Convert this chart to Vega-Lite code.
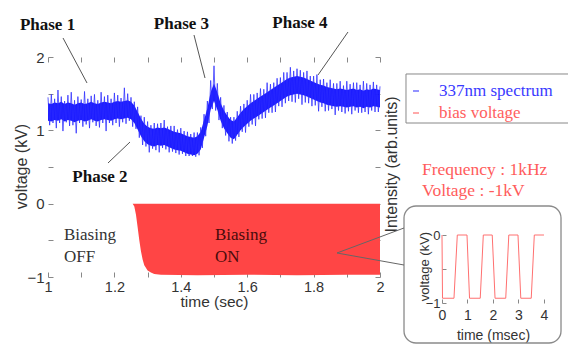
{
  "$schema": "https://vega.github.io/schema/vega-lite/v6.json",
  "width": 568,
  "height": 345,
  "autosize": {"type": "none"},
  "padding": 0,
  "background": "white",
  "config": {
    "view": {"stroke": null},
    "axis": {"grid": false, "labelFont": "Liberation Sans", "titleFont": "Liberation Sans"}
  },
  "datasets": {
    "blueBand": [
      {"t":1.00,"lo":1.13,"hi":1.37},{"t":1.01,"lo":1.12,"hi":1.36},{"t":1.02,"lo":1.14,"hi":1.38},{"t":1.03,"lo":1.13,"hi":1.37},{"t":1.04,"lo":1.15,"hi":1.39},
      {"t":1.05,"lo":1.12,"hi":1.36},{"t":1.06,"lo":1.14,"hi":1.38},{"t":1.07,"lo":1.13,"hi":1.37},{"t":1.08,"lo":1.11,"hi":1.35},{"t":1.09,"lo":1.13,"hi":1.37},
      {"t":1.10,"lo":1.14,"hi":1.38},{"t":1.11,"lo":1.12,"hi":1.36},{"t":1.12,"lo":1.13,"hi":1.37},{"t":1.13,"lo":1.15,"hi":1.39},{"t":1.14,"lo":1.13,"hi":1.37},
      {"t":1.15,"lo":1.12,"hi":1.36},{"t":1.16,"lo":1.14,"hi":1.38},{"t":1.17,"lo":1.15,"hi":1.39},{"t":1.18,"lo":1.14,"hi":1.38},{"t":1.19,"lo":1.13,"hi":1.37},
      {"t":1.20,"lo":1.15,"hi":1.39},{"t":1.21,"lo":1.16,"hi":1.40},{"t":1.22,"lo":1.15,"hi":1.39},{"t":1.23,"lo":1.16,"hi":1.40},{"t":1.24,"lo":1.17,"hi":1.41},
      {"t":1.25,"lo":1.15,"hi":1.39},{"t":1.26,"lo":1.10,"hi":1.34},{"t":1.27,"lo":1.01,"hi":1.25},{"t":1.28,"lo":0.92,"hi":1.16},{"t":1.29,"lo":0.85,"hi":1.09},
      {"t":1.30,"lo":0.81,"hi":1.05},{"t":1.31,"lo":0.79,"hi":1.03},{"t":1.32,"lo":0.78,"hi":1.02},{"t":1.33,"lo":0.80,"hi":1.04},{"t":1.34,"lo":0.79,"hi":1.03},
      {"t":1.35,"lo":0.80,"hi":1.04},{"t":1.36,"lo":0.78,"hi":1.02},{"t":1.37,"lo":0.76,"hi":1.00},{"t":1.38,"lo":0.74,"hi":0.98},{"t":1.39,"lo":0.73,"hi":0.97},
      {"t":1.40,"lo":0.72,"hi":0.96},{"t":1.41,"lo":0.70,"hi":0.94},{"t":1.42,"lo":0.68,"hi":0.92},{"t":1.43,"lo":0.67,"hi":0.91},{"t":1.44,"lo":0.66,"hi":0.90},
      {"t":1.45,"lo":0.68,"hi":0.92},{"t":1.46,"lo":0.74,"hi":0.98},{"t":1.47,"lo":0.90,"hi":1.14},{"t":1.48,"lo":1.06,"hi":1.30},{"t":1.49,"lo":1.28,"hi":1.52},
      {"t":1.50,"lo":1.40,"hi":1.64},{"t":1.51,"lo":1.28,"hi":1.52},{"t":1.52,"lo":1.13,"hi":1.37},{"t":1.53,"lo":1.03,"hi":1.27},{"t":1.54,"lo":0.96,"hi":1.20},
      {"t":1.55,"lo":0.90,"hi":1.14},{"t":1.56,"lo":0.88,"hi":1.12},{"t":1.57,"lo":0.94,"hi":1.18},{"t":1.58,"lo":1.00,"hi":1.24},{"t":1.59,"lo":1.05,"hi":1.29},
      {"t":1.60,"lo":1.09,"hi":1.33},{"t":1.61,"lo":1.13,"hi":1.37},{"t":1.62,"lo":1.16,"hi":1.40},{"t":1.63,"lo":1.19,"hi":1.43},{"t":1.64,"lo":1.22,"hi":1.46},
      {"t":1.65,"lo":1.25,"hi":1.49},{"t":1.66,"lo":1.28,"hi":1.52},{"t":1.67,"lo":1.31,"hi":1.55},{"t":1.68,"lo":1.34,"hi":1.58},{"t":1.69,"lo":1.37,"hi":1.61},
      {"t":1.70,"lo":1.40,"hi":1.64},{"t":1.71,"lo":1.43,"hi":1.67},{"t":1.72,"lo":1.46,"hi":1.70},{"t":1.73,"lo":1.48,"hi":1.72},{"t":1.74,"lo":1.49,"hi":1.73},
      {"t":1.75,"lo":1.50,"hi":1.74},{"t":1.76,"lo":1.49,"hi":1.73},{"t":1.77,"lo":1.48,"hi":1.72},{"t":1.78,"lo":1.46,"hi":1.70},{"t":1.79,"lo":1.44,"hi":1.68},
      {"t":1.80,"lo":1.42,"hi":1.66},{"t":1.81,"lo":1.40,"hi":1.64},{"t":1.82,"lo":1.38,"hi":1.62},{"t":1.83,"lo":1.37,"hi":1.61},{"t":1.84,"lo":1.35,"hi":1.59},
      {"t":1.85,"lo":1.34,"hi":1.58},{"t":1.86,"lo":1.33,"hi":1.57},{"t":1.87,"lo":1.32,"hi":1.56},{"t":1.88,"lo":1.33,"hi":1.57},{"t":1.89,"lo":1.32,"hi":1.56},
      {"t":1.90,"lo":1.31,"hi":1.55},{"t":1.91,"lo":1.32,"hi":1.56},{"t":1.92,"lo":1.33,"hi":1.57},{"t":1.93,"lo":1.31,"hi":1.55},{"t":1.94,"lo":1.32,"hi":1.56},
      {"t":1.95,"lo":1.30,"hi":1.54},{"t":1.96,"lo":1.32,"hi":1.56},{"t":1.97,"lo":1.31,"hi":1.55},{"t":1.98,"lo":1.33,"hi":1.57},{"t":1.99,"lo":1.32,"hi":1.56},
      {"t":2.00,"lo":1.31,"hi":1.55}
    ],
    "blueNoise": [
      {"t":1.000,"v":1.45},{"t":1.005,"v":1.07},{"t":1.010,"v":1.49},{"t":1.015,"v":1.10},{"t":1.020,"v":1.43},{"t":1.025,"v":1.03},{"t":1.030,"v":1.55},{"t":1.035,"v":1.10},{"t":1.040,"v":1.46},{"t":1.045,"v":0.99},
      {"t":1.050,"v":1.40},{"t":1.055,"v":1.11},{"t":1.060,"v":1.48},{"t":1.065,"v":1.06},{"t":1.070,"v":1.52},{"t":1.075,"v":1.07},{"t":1.080,"v":1.41},{"t":1.085,"v":0.96},{"t":1.090,"v":1.46},{"t":1.095,"v":1.10},
      {"t":1.100,"v":1.42},{"t":1.105,"v":1.05},{"t":1.110,"v":1.53},{"t":1.115,"v":1.08},{"t":1.120,"v":1.43},{"t":1.125,"v":1.03},{"t":1.130,"v":1.47},{"t":1.135,"v":1.11},{"t":1.140,"v":1.49},{"t":1.145,"v":1.06},
      {"t":1.150,"v":1.41},{"t":1.155,"v":1.04},{"t":1.160,"v":1.52},{"t":1.165,"v":1.10},{"t":1.170,"v":1.46},{"t":1.175,"v":0.99},{"t":1.180,"v":1.48},{"t":1.185,"v":1.10},{"t":1.190,"v":1.43},{"t":1.195,"v":1.07},
      {"t":1.200,"v":1.51},{"t":1.205,"v":1.10},{"t":1.210,"v":1.48},{"t":1.215,"v":1.05},{"t":1.220,"v":1.44},{"t":1.225,"v":1.11},{"t":1.230,"v":1.58},{"t":1.235,"v":1.09},{"t":1.240,"v":1.50},{"t":1.245,"v":1.13},
      {"t":1.250,"v":1.45},{"t":1.255,"v":1.05},{"t":1.260,"v":1.39},{"t":1.265,"v":1.02},{"t":1.270,"v":1.32},{"t":1.275,"v":0.90},{"t":1.280,"v":1.20},{"t":1.285,"v":0.80},{"t":1.290,"v":1.18},{"t":1.295,"v":0.78},
      {"t":1.300,"v":1.12},{"t":1.305,"v":0.70},{"t":1.310,"v":1.07},{"t":1.315,"v":0.75},{"t":1.320,"v":1.10},{"t":1.325,"v":0.73},{"t":1.330,"v":1.09},{"t":1.335,"v":0.70},{"t":1.340,"v":1.10},{"t":1.345,"v":0.76},
      {"t":1.350,"v":1.14},{"t":1.355,"v":0.74},{"t":1.360,"v":1.05},{"t":1.365,"v":0.70},{"t":1.370,"v":1.06},{"t":1.375,"v":0.71},{"t":1.380,"v":1.06},{"t":1.385,"v":0.69},{"t":1.390,"v":1.01},{"t":1.395,"v":0.67},
      {"t":1.400,"v":1.03},{"t":1.405,"v":0.68},{"t":1.410,"v":0.99},{"t":1.415,"v":0.65},{"t":1.420,"v":0.98},{"t":1.425,"v":0.65},{"t":1.430,"v":0.95},{"t":1.435,"v":0.65},{"t":1.440,"v":0.97},{"t":1.445,"v":0.64},
      {"t":1.450,"v":0.97},{"t":1.455,"v":0.66},{"t":1.460,"v":1.04},{"t":1.465,"v":0.76},{"t":1.470,"v":1.22},{"t":1.475,"v":0.92},{"t":1.480,"v":1.40},{"t":1.485,"v":1.10},{"t":1.490,"v":1.68},{"t":1.495,"v":1.29},
      {"t":1.500,"v":1.88},{"t":1.505,"v":1.27},{"t":1.510,"v":1.64},{"t":1.515,"v":1.14},{"t":1.520,"v":1.45},{"t":1.525,"v":1.03},{"t":1.530,"v":1.34},{"t":1.535,"v":0.93},{"t":1.540,"v":1.25},{"t":1.545,"v":0.85},
      {"t":1.550,"v":1.18},{"t":1.555,"v":0.82},{"t":1.560,"v":1.18},{"t":1.565,"v":0.86},{"t":1.570,"v":1.26},{"t":1.575,"v":0.91},{"t":1.580,"v":1.33},{"t":1.585,"v":0.98},{"t":1.590,"v":1.36},{"t":1.595,"v":0.97},
      {"t":1.600,"v":1.41},{"t":1.605,"v":1.05},{"t":1.610,"v":1.49},{"t":1.615,"v":1.08},{"t":1.620,"v":1.49},{"t":1.625,"v":1.06},{"t":1.630,"v":1.51},{"t":1.635,"v":1.15},{"t":1.640,"v":1.57},{"t":1.645,"v":1.16},
      {"t":1.650,"v":1.56},{"t":1.655,"v":1.17},{"t":1.660,"v":1.65},{"t":1.665,"v":1.24},{"t":1.670,"v":1.63},{"t":1.675,"v":1.24},{"t":1.680,"v":1.65},{"t":1.685,"v":1.25},{"t":1.690,"v":1.71},{"t":1.695,"v":1.33},
      {"t":1.700,"v":1.72},{"t":1.705,"v":1.32},{"t":1.710,"v":1.79},{"t":1.715,"v":1.37},{"t":1.720,"v":1.79},{"t":1.725,"v":1.40},{"t":1.730,"v":1.86},{"t":1.735,"v":1.39},{"t":1.740,"v":1.81},{"t":1.745,"v":1.38},
      {"t":1.750,"v":1.84},{"t":1.755,"v":1.43},{"t":1.760,"v":1.82},{"t":1.765,"v":1.35},{"t":1.770,"v":1.79},{"t":1.775,"v":1.38},{"t":1.780,"v":1.81},{"t":1.785,"v":1.37},{"t":1.790,"v":1.74},{"t":1.795,"v":1.33},
      {"t":1.800,"v":1.74},{"t":1.805,"v":1.34},{"t":1.810,"v":1.76},{"t":1.815,"v":1.26},{"t":1.820,"v":1.69},{"t":1.825,"v":1.32},{"t":1.830,"v":1.70},{"t":1.835,"v":1.26},{"t":1.840,"v":1.65},{"t":1.845,"v":1.27},
      {"t":1.850,"v":1.69},{"t":1.855,"v":1.29},{"t":1.860,"v":1.64},{"t":1.865,"v":1.21},{"t":1.870,"v":1.64},{"t":1.875,"v":1.27},{"t":1.880,"v":1.67},{"t":1.885,"v":1.25},{"t":1.890,"v":1.61},{"t":1.895,"v":1.23},
      {"t":1.900,"v":1.67},{"t":1.905,"v":1.26},{"t":1.910,"v":1.63},{"t":1.915,"v":1.22},{"t":1.920,"v":1.65},{"t":1.925,"v":1.27},{"t":1.930,"v":1.65},{"t":1.935,"v":1.24},{"t":1.940,"v":1.62},{"t":1.945,"v":1.24},
      {"t":1.950,"v":1.67},{"t":1.955,"v":1.25},{"t":1.960,"v":1.64},{"t":1.965,"v":1.22},{"t":1.970,"v":1.62},{"t":1.975,"v":1.27},{"t":1.980,"v":1.66},{"t":1.985,"v":1.25},{"t":1.990,"v":1.62},{"t":1.995,"v":1.25},
      {"t":2.000,"v":1.60}
    ],
    "redArea": [
      {"t":1.255,"lo":0},{"t":1.26,"lo":-0.04},{"t":1.265,"lo":-0.15},{"t":1.27,"lo":-0.32},{"t":1.275,"lo":-0.5},{"t":1.28,"lo":-0.65},
      {"t":1.285,"lo":-0.76},{"t":1.29,"lo":-0.84},{"t":1.30,"lo":-0.91},{"t":1.31,"lo":-0.94},{"t":1.32,"lo":-0.96},{"t":1.34,"lo":-0.97},
      {"t":1.45,"lo":-0.975},{"t":1.6,"lo":-0.97},{"t":1.75,"lo":-0.975},{"t":1.9,"lo":-0.97},{"t":2.0,"lo":-0.97}
    ],
    "wave": [
      {"m":0,"v":0},{"m":0.02,"v":-0.93},{"m":0.47,"v":-0.93},{"m":0.6,"v":0},{"m":0.98,"v":0},{"m":1.08,"v":-0.93},
      {"m":1.5,"v":-0.93},{"m":1.62,"v":0},{"m":1.97,"v":0},{"m":2.08,"v":-0.93},{"m":2.5,"v":-0.93},{"m":2.62,"v":0},
      {"m":2.98,"v":0},{"m":3.09,"v":-0.93},{"m":3.5,"v":-0.93},{"m":3.62,"v":0},{"m":4,"v":0}
    ],
    "phases": [
      {"label":"Phase 1","t":0.9985,"v":2.4364},{"label":"Phase 3","t":1.4021,"v":2.45},
      {"label":"Phase 4","t":1.759,"v":2.4636},{"label":"Phase 2","t":1.1566,"v":0.3636}
    ],
    "biasOff": [{"label":"Biasing","t":1.0482,"v":-0.4273},{"label":"OFF","t":1.0482,"v":-0.7273}],
    "biasOn": [{"label":"Biasing","t":1.503,"v":-0.4273},{"label":"ON","t":1.503,"v":-0.7273}],
    "freq": [{"label":"Frequency : 1kHz","t":2.1265,"v":0.4591},{"label":"Voltage : -1kV","t":2.1265,"v":0.1727}],
    "arrows": [
      {"t":1.0452,"v":2.2591,"t2":1.1175,"v2":1.6455},{"t":1.4398,"v":2.3,"t2":1.4729,"v2":1.7136},
      {"t":1.9036,"v":2.3409,"t2":1.8133,"v2":1.7545},{"t":1.1807,"v":0.5545,"t2":1.247,"v2":0.8409}
    ],
    "callout": [
      {"t":1.8705,"v":-0.6727,"t2":2.0723,"v2":-0.3318},{"t":1.8705,"v":-0.6727,"t2":2.0723,"v2":-0.8364}
    ],
    "bubble": [{"t":2.0723,"t2":2.5452,"v":-0.0318,"v2":-1.9}],
    "legendBox": [{"t":2.0783,"t2":2.58,"v":1.7682,"v2":1.1}],
    "legendBlue": [{"label":"337nm spectrum","t":2.0994,"t2":2.1175,"tl":2.1777,"v":1.5364}],
    "legendRed": [{"label":"bias voltage","t":2.0994,"t2":2.1175,"tl":2.1777,"v":1.2364}]
  },
  "layer": [
    {
      "layer": [
        {
          "layer": [
            {
              "mark": {"type": "rect", "filled": false, "color": "#8c8c8c", "strokeWidth": 1},
              "encoding": {
                "x": {"datum": 1, "type": "quantitative",
                  "scale": {"domain": [0.855422, 2.566265], "nice": false, "zero": false},
                  "axis": {"orient": "bottom", "offset": -68, "values": [1,1.1,1.2,1.3,1.4,1.5,1.6,1.7,1.8,1.9,2], "format": ".1~f",
                    "labelExpr": "(round(datum.value*10) % 2 == 0) ? datum.label : ''",
                    "domain": false, "tickSize": -5, "tickColor": "#888", "labelPadding": 19, "labelBaseline": "alphabetic",
                    "labelFontSize": 14.5, "labelColor": "#333", "labelFlush": false, "labelOverlap": false,
                    "title": "time (sec)", "titleX": 214, "titleY": 29, "titleBaseline": "alphabetic", "titleAlign": "center",
                    "titleFontSize": 15.5, "titleFontWeight": "normal", "titleColor": "#333", "grid": false}},
                "x2": {"datum": 2},
                "y": {"datum": -1, "type": "quantitative",
                  "scale": {"domain": [-1.927273, 2.777273], "nice": false, "zero": false},
                  "axis": {"orient": "left", "offset": -48, "values": [-1,-0.5,0,0.5,1,1.5,2], "format": "~g",
                    "labelExpr": "datum.value % 1 == 0 ? datum.label : ''",
                    "domain": false, "tickSize": -5, "tickColor": "#888", "labelPadding": 9, "labelFontSize": 15, "labelColor": "#333",
                    "labelFlush": false, "labelOverlap": false,
                    "title": "voltage (kV)", "titleX": -27, "titleY": 166, "titleAngle": 270, "titleBaseline": "middle", "titleAlign": "center",
                    "titleFontSize": 16, "titleFontWeight": "normal", "titleColor": "#333", "grid": false}},
                "y2": {"datum": 2}
              }
            },
            {
              "data": {"name": "redArea"},
              "mark": {"type": "area", "interpolate": "linear", "color": "#ff4545"},
              "encoding": {
                "x": {"field": "t", "type": "quantitative"},
                "y": {"field": "lo", "type": "quantitative"},
                "y2": {"datum": 0}
              }
            },
            {
              "mark": {"type": "rule", "color": "#ff4545", "strokeWidth": 2},
              "encoding": {
                "x": {"datum": 1, "type": "quantitative"},
                "x2": {"datum": 1.26},
                "y": {"datum": 0, "type": "quantitative"}
              }
            },
            {
              "data": {"name": "blueBand"},
              "mark": {"type": "area", "color": "#1010ff", "opacity": 0.95},
              "encoding": {
                "x": {"field": "t", "type": "quantitative"},
                "y": {"field": "lo", "type": "quantitative"},
                "y2": {"field": "hi"}
              }
            },
            {
              "data": {"name": "blueNoise"},
              "mark": {"type": "line", "strokeWidth": 1, "opacity": 0.75, "color": "#2a2aff"},
              "encoding": {
                "x": {"field": "t", "type": "quantitative"},
                "y": {"field": "v", "type": "quantitative"}
              }
            },
            {
              "data": {"name": "legendBox"},
              "mark": {"type": "rect", "fill": "white", "stroke": "#888", "strokeWidth": 1},
              "encoding": {
                "x": {"field": "t", "type": "quantitative"},
                "x2": {"field": "t2"},
                "y": {"field": "v", "type": "quantitative"},
                "y2": {"field": "v2"}
              }
            },
            {
              "data": {"name": "legendBlue"},
              "layer": [
                {
                  "mark": {"type": "rule", "color": "#4a4aff", "strokeWidth": 1.2},
                  "encoding": {
                    "x": {"field": "t", "type": "quantitative"},
                    "x2": {"field": "t2"},
                    "y": {"field": "v", "type": "quantitative"}
                  }
                },
                {
                  "mark": {"type": "text", "font": "Liberation Serif", "fontSize": 17, "color": "#3a3aff", "align": "left", "baseline": "middle"},
                  "encoding": {
                    "x": {"field": "tl", "type": "quantitative"},
                    "y": {"field": "v", "type": "quantitative"},
                    "text": {"field": "label"}
                  }
                }
              ]
            },
            {
              "data": {"name": "legendRed"},
              "layer": [
                {
                  "mark": {"type": "rule", "color": "#ff7070", "strokeWidth": 1.2},
                  "encoding": {
                    "x": {"field": "t", "type": "quantitative"},
                    "x2": {"field": "t2"},
                    "y": {"field": "v", "type": "quantitative"}
                  }
                },
                {
                  "mark": {"type": "text", "font": "Liberation Serif", "fontSize": 17, "color": "#ff6060", "align": "left", "baseline": "middle"},
                  "encoding": {
                    "x": {"field": "tl", "type": "quantitative"},
                    "y": {"field": "v", "type": "quantitative"},
                    "text": {"field": "label"}
                  }
                }
              ]
            },
            {
              "data": {"name": "arrows"},
              "mark": {"type": "rule", "color": "#555", "strokeWidth": 1},
              "encoding": {
                "x": {"field": "t", "type": "quantitative"},
                "y": {"field": "v", "type": "quantitative"},
                "x2": {"field": "t2"},
                "y2": {"field": "v2"}
              }
            },
            {
              "data": {"name": "phases"},
              "mark": {"type": "text", "font": "Liberation Serif", "fontWeight": "bold", "fontSize": 17, "color": "#111", "align": "center", "baseline": "middle"},
              "encoding": {
                "x": {"field": "t", "type": "quantitative"},
                "y": {"field": "v", "type": "quantitative"},
                "text": {"field": "label"}
              }
            },
            {
              "data": {"name": "biasOff"},
              "mark": {"type": "text", "font": "Liberation Serif", "fontSize": 17, "color": "#333", "align": "left", "baseline": "middle"},
              "encoding": {
                "x": {"field": "t", "type": "quantitative"},
                "y": {"field": "v", "type": "quantitative"},
                "text": {"field": "label"}
              }
            },
            {
              "data": {"name": "biasOn"},
              "mark": {"type": "text", "font": "Liberation Serif", "fontSize": 17, "color": "#4a0c0c", "align": "left", "baseline": "middle"},
              "encoding": {
                "x": {"field": "t", "type": "quantitative"},
                "y": {"field": "v", "type": "quantitative"},
                "text": {"field": "label"}
              }
            },
            {
              "data": {"name": "freq"},
              "mark": {"type": "text", "font": "Liberation Serif", "fontSize": 17.5, "color": "#ff5c5c", "align": "left", "baseline": "middle"},
              "encoding": {
                "x": {"field": "t", "type": "quantitative"},
                "y": {"field": "v", "type": "quantitative"},
                "text": {"field": "label"}
              }
            },
            {
              "data": {"name": "bubble"},
              "mark": {"type": "rect", "fill": "transparent", "stroke": "#8a8a8a", "strokeWidth": 1.3, "cornerRadius": 12},
              "encoding": {
                "x": {"field": "t", "type": "quantitative"},
                "x2": {"field": "t2"},
                "y": {"field": "v", "type": "quantitative"},
                "y2": {"field": "v2"}
              }
            },
            {
              "mark": {"type": "rule", "color": "white", "strokeWidth": 3},
              "encoding": {
                "x": {"datum": 2.0723, "type": "quantitative"},
                "y": {"datum": -0.3318, "type": "quantitative"},
                "y2": {"datum": -0.8364}
              }
            },
            {
              "data": {"name": "callout"},
              "mark": {"type": "rule", "color": "#666", "strokeWidth": 1},
              "encoding": {
                "x": {"field": "t", "type": "quantitative"},
                "y": {"field": "v", "type": "quantitative"},
                "x2": {"field": "t2"},
                "y2": {"field": "v2"}
              }
            }
          ]
        },
        {
          "mark": {"type": "point", "opacity": 0},
          "encoding": {
            "x": {"datum": 1, "type": "quantitative",
              "scale": {"domain": [0.855422, 2.566265], "nice": false, "zero": false},
              "axis": {"orient": "top", "offset": -57, "values": [1,1.1,1.2,1.3,1.4,1.5,1.6,1.7,1.8,1.9,2], "labels": false,
                "domain": false, "tickSize": -5, "tickColor": "#888", "title": null, "grid": false}},
            "y": {"datum": 2, "type": "quantitative",
              "scale": {"domain": [-1.927273, 2.777273], "nice": false, "zero": false},
              "axis": {"orient": "right", "offset": -188, "values": [-1,-0.5,0,0.5,1,1.5,2], "labels": false,
                "domain": false, "tickSize": -5, "tickColor": "#888",
                "title": "Intensity (arb.units)", "titleX": 11, "titleY": 164, "titleAngle": 270, "titleBaseline": "middle", "titleAlign": "center",
                "titleFontSize": 16, "titleFontWeight": "normal", "titleColor": "#333", "grid": false}}
          }
        }
      ],
      "resolve": {"axis": {"x": "independent", "y": "independent"}}
    },
    {
      "layer": [
        {
          "mark": {"type": "rect", "filled": false, "color": "#8c8c8c", "strokeWidth": 1},
          "encoding": {
            "x": {"datum": 0, "type": "quantitative",
              "scale": {"domain": [-17.3333, 4.9412], "nice": false, "zero": false},
              "axis": {"orient": "bottom", "offset": -42, "values": [0,1,2,3,4], "format": "~g",
                "domain": false, "tickSize": -4, "tickColor": "#888", "labelPadding": 20, "labelBaseline": "alphabetic",
                "labelFontSize": 14, "labelColor": "#333", "labelFlush": false, "labelOverlap": false,
                "title": "time (msec)", "titleX": 493, "titleY": 36, "titleBaseline": "alphabetic", "titleAlign": "center",
                "titleFontSize": 14, "titleFontWeight": "normal", "titleColor": "#333", "grid": false}},
            "x2": {"datum": 4},
            "y": {"datum": -1, "type": "quantitative",
              "scale": {"domain": [-1.6176, 3.4559], "nice": false, "zero": false},
              "axis": {"orient": "left", "offset": -442, "values": [-1,-0.5,0], "format": "~g",
                "labelExpr": "datum.value % 1 == 0 ? datum.label : ''",
                "domain": false, "tickSize": -4, "tickColor": "#888", "labelPadding": 6, "labelFontSize": 13, "labelColor": "#333",
                "labelFlush": false, "labelOverlap": false,
                "title": "voltage (kV)", "titleX": -18, "titleY": 266, "titleAngle": 270, "titleBaseline": "middle", "titleAlign": "center",
                "titleFontSize": 13, "titleFontWeight": "normal", "titleColor": "#333", "grid": false}},
            "y2": {"datum": 0}
          }
        },
        {
          "data": {"name": "wave"},
          "mark": {"type": "line", "color": "#ff7070", "strokeWidth": 1},
          "encoding": {
            "x": {"field": "m", "type": "quantitative"},
            "y": {"field": "v", "type": "quantitative"}
          }
        }
      ]
    }
  ],
  "resolve": {"scale": {"x": "independent", "y": "independent"}}
}
